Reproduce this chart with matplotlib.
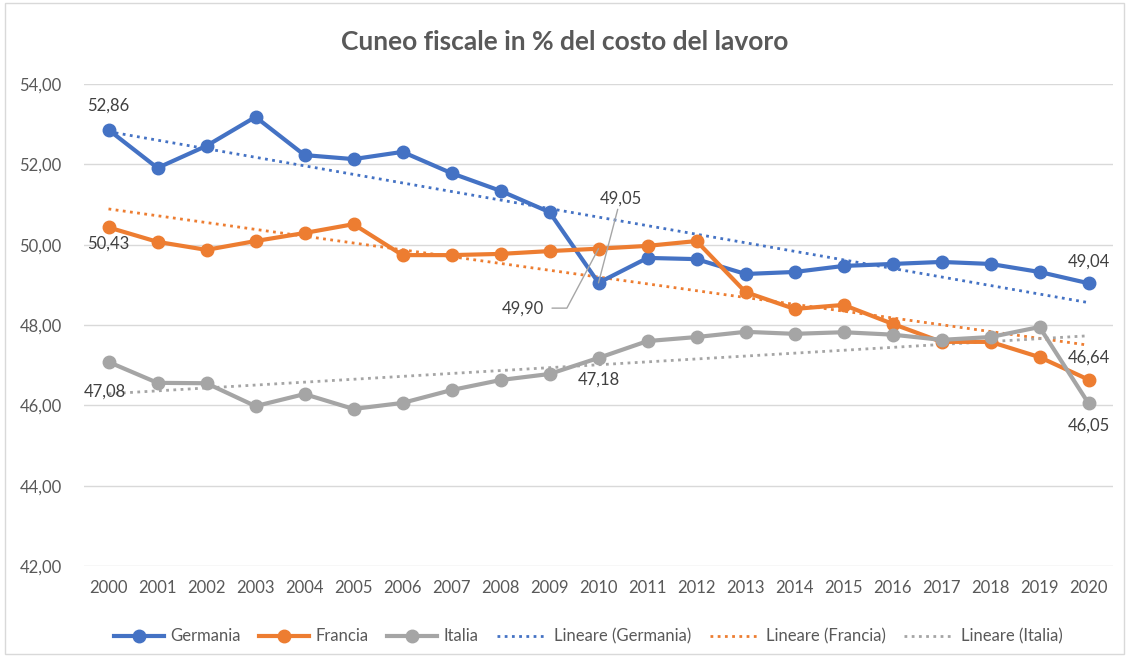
import numpy as np
import matplotlib
matplotlib.use("Agg")
import matplotlib.pyplot as plt
from matplotlib.patches import Rectangle

years = list(range(2000, 2021))
germania = [52.86, 51.91, 52.46, 53.18, 52.23, 52.13, 52.31, 51.78, 51.34, 50.81, 49.05,
            49.67, 49.64, 49.27, 49.32, 49.47, 49.52, 49.57, 49.52, 49.32, 49.04]
francia = [50.43, 50.07, 49.87, 50.09, 50.29, 50.51, 49.74, 49.74, 49.77, 49.84, 49.90,
           49.97, 50.09, 48.82, 48.40, 48.50, 48.03, 47.58, 47.58, 47.20, 46.64]
italia = [47.08, 46.56, 46.55, 45.98, 46.28, 45.91, 46.06, 46.38, 46.63, 46.78, 47.18,
          47.60, 47.70, 47.83, 47.78, 47.82, 47.76, 47.63, 47.70, 47.95, 46.05]
names = ["Germania", "Francia", "Italia"]
colors = ["#4472C4", "#ED7D31", "#A5A5A5"]
TXT = "#595959"

plt.rcParams["font.family"] = ["Lato", "DejaVu Sans"]

fig = plt.figure(figsize=(11.29, 6.57), dpi=100)
ax = fig.add_axes([84 / 1129, 1 - 566 / 657, 1029 / 1129, 482 / 657])

x = np.arange(len(years))
handles = []
for vals, name, col in zip([germania, francia, italia], names, colors):
    h, = ax.plot(x, vals, color=col, lw=3, marker="o", ms=9, label=name, zorder=3)
    handles.append(h)
trend_handles = []
for vals, name, col in zip([germania, francia, italia], names, colors):
    k, b = np.polyfit(x, vals, 1)
    h, = ax.plot(x, k * x + b, color=col, lw=2, ls=(0, (1, 1.6)),
                 label=f"Lineare ({name})", zorder=2)
    trend_handles.append(h)

ax.set_xlim(-0.5, len(years) - 0.5)
ax.set_ylim(42, 54)
ax.set_yticks(np.arange(42, 55, 2))
ax.set_yticklabels([f"{v:.2f}".replace(".", ",") for v in np.arange(42, 55, 2)])
ax.set_xticks(x)
ax.set_xticklabels([str(y) for y in years])
ax.tick_params(axis="both", length=0, labelsize=12, colors=TXT, pad=10)
ax.tick_params(axis="y", pad=16)
ax.grid(axis="y", color="#D9D9D9", lw=1)
ax.set_axisbelow(True)
for s in ax.spines.values():
    s.set_visible(False)


def fmt(v):
    return f"{v:.2f}".replace(".", ",")


lab = dict(fontsize=12, color="#404040")
ax.text(0, germania[0] + 0.4, fmt(germania[0]), ha="center", va="bottom", **lab)
ax.text(0, francia[0] - 0.2, fmt(francia[0]), ha="center", va="top", **lab)
ax.text(-0.5, italia[0] - 0.55, fmt(italia[0]), ha="left", va="top", **lab)
ax.text(10, italia[10] - 0.35, fmt(italia[10]), ha="center", va="top", **lab)
ax.text(20, germania[20] + 0.35, fmt(germania[20]), ha="center", va="bottom", **lab)
ax.text(20, francia[20] + 0.35, fmt(francia[20]), ha="center", va="bottom", **lab)
ax.text(20, italia[20] - 0.35, fmt(italia[20]), ha="center", va="top", **lab)
# labels with leader lines
ax.annotate(fmt(germania[10]), xy=(10, germania[10]), xytext=(10.45, 50.95),
            ha="center", va="bottom", **lab,
            arrowprops=dict(arrowstyle="-", color="#A6A6A6", lw=1, shrinkA=0, shrinkB=0))
ax.annotate(fmt(francia[10]), xy=(10, francia[10]), xytext=(8.45, 48.42),
            ha="center", va="center", **lab,
            arrowprops=dict(arrowstyle="-", color="#A6A6A6", lw=1, shrinkA=4, shrinkB=0,
                            relpos=(1, 0.5),
                            connectionstyle="angle,angleA=0,angleB=62,rad=0"))

ax.legend(handles=handles + trend_handles, loc="upper center", bbox_to_anchor=(0.49, -0.098),
          ncol=6, frameon=False, fontsize=12, labelcolor=TXT, handlelength=3.0,
          columnspacing=1.1, handletextpad=0.4)

fig.text(0.5, 1 - 42 / 657, "Cuneo fiscale in % del costo del lavoro", ha="center",
         va="center", fontsize=19, fontweight="bold", color=TXT)
fig.patches.append(Rectangle((5 / 1129, 0.005), 1 - 10 / 1129, 0.99, transform=fig.transFigure,
                             fill=False, edgecolor="#D9D9D9", lw=1))

fig.savefig("out.png", dpi=100)
